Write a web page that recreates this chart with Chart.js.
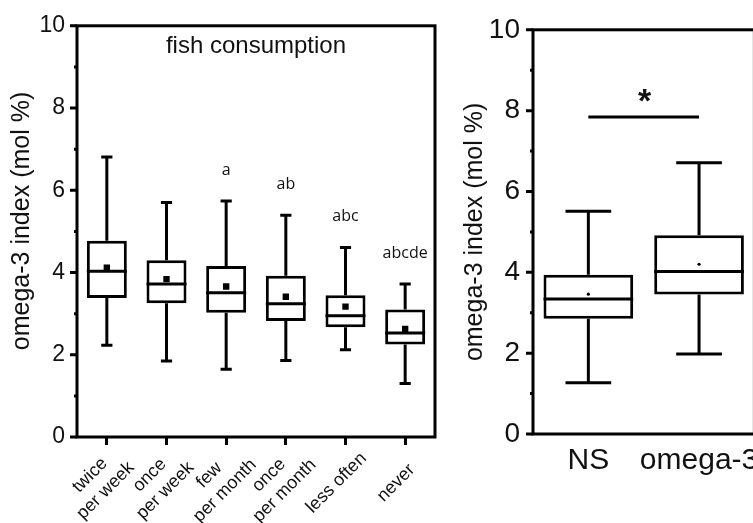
<!DOCTYPE html>
<html><head><meta charset="utf-8">
<script src="https://cdn.jsdelivr.net/npm/chart.js@4/dist/chart.umd.min.js"></script>
<style>
html,body{margin:0;padding:0;background:#fff;overflow:hidden;width:753px;height:523px;position:relative;}
#c1{position:absolute;left:0;top:0;}
#c2{position:absolute;left:440px;top:0;}
</style></head><body>
<canvas id="c1" width="445" height="523"></canvas>
<canvas id="c2" width="330" height="523"></canvas>
<script>
// ---- data: left panel (fish consumption) ----
const fishCategories = [["twice","per week"],["once","per week"],["few","per month"],["once","per month"],"less often","never"];
const fishMin    = [2.23, 1.85, 1.65, 1.86, 2.12, 1.30];
const fishQ1     = [3.38, 3.25, 3.02, 2.82, 2.67, 2.25];
const fishMedian = [4.03, 3.72, 3.51, 3.24, 2.95, 2.53];
const fishQ3     = [4.77, 4.30, 4.16, 3.92, 3.45, 3.10];
const fishMax    = [6.81, 5.70, 5.74, 5.39, 4.61, 3.72];
const fishMean   = [4.12, 3.84, 3.66, 3.41, 3.17, 2.63];
const fishLetters = ["", "", "a", "ab", "abc", "abcde"];
const fishTitle = "fish consumption";

// ---- data: right panel (NS vs omega-3) ----
const groupCategories = ["NS", "omega-3"];
const groupMin    = [1.27, 1.98];
const groupQ1     = [2.85, 3.45];
const groupMedian = [3.34, 4.02];
const groupQ3     = [3.94, 4.92];
const groupMax    = [5.51, 6.71];
const groupMean   = [3.46, 4.20];
const sigLevel = 7.84;
const sigMark = "*";

const yTitle = "omega-3 index (mol %)";
const yMin = 0, yMax = 10, yStep = 1;

const FONT = "'Liberation Sans', Arial, sans-serif";

const boxExtras = {
  id: 'boxExtras',
  afterDatasetDraw(chart, args, o) {
    if (args.index !== 0) return;
    const ctx = chart.ctx, y = chart.scales.y;
    const meta = args.meta;
    ctx.save();
    ctx.strokeStyle = '#000';
    ctx.lineWidth = o.lw;
    ctx.lineCap = 'butt';
    meta.data.forEach((bar, i) => {
      const x = bar.x, w = bar.width, cw = w * o.cap;
      const yMx = y.getPixelForValue(o.max[i]), yQ3 = y.getPixelForValue(o.q3[i]);
      const yQ1 = y.getPixelForValue(o.q1[i]), yMn = y.getPixelForValue(o.min[i]);
      const yMd = y.getPixelForValue(o.median[i]);
      ctx.beginPath();
      ctx.moveTo(x, yMx); ctx.lineTo(x, yQ3);
      ctx.moveTo(x, yQ1); ctx.lineTo(x, yMn);
      ctx.moveTo(x - cw/2, yMx); ctx.lineTo(x + cw/2, yMx);
      ctx.moveTo(x - cw/2, yMn); ctx.lineTo(x + cw/2, yMn);
      ctx.moveTo(x - w/2, yMd); ctx.lineTo(x + w/2, yMd);
      ctx.stroke();
    });
    ctx.restore();
  },
  afterDraw(chart, args, o) {
    const ctx = chart.ctx, y = chart.scales.y, xs = chart.scales.x, a = chart.chartArea;
    ctx.save();
    ctx.strokeStyle = '#000';
    ctx.lineWidth = 3;
    // frame
    ctx.strokeRect(a.left, a.top, a.right - a.left, a.bottom - a.top);
    // y tick marks (major on labelled ticks, minor otherwise)
    ctx.beginPath();
    y.ticks.forEach(t => {
      const py = y.getPixelForValue(t.value);
      const len = (t.value % 2 === 0) ? 7 : 3;
      ctx.moveTo(a.left - len, py); ctx.lineTo(a.left, py);
    });
    ctx.stroke();
    ctx.fillStyle = '#111';
    const meta = chart.getDatasetMeta(0);
    // rotated, centre-aligned category labels
    if (o.rotLabels) {
      ctx.font = "18px " + FONT;
      ctx.textAlign = 'center'; ctx.textBaseline = 'middle';
      const lh = 22;
      chart.data.labels.forEach((lab, i) => {
        const lines = Array.isArray(lab) ? lab : [lab];
        const cx = xs.getPixelForTick(i) - 9, cy = a.bottom + 46;
        ctx.save();
        ctx.translate(cx, cy);
        ctx.rotate(-Math.PI / 4);
        lines.forEach((ln, j) => ctx.fillText(ln, 0, (j - (lines.length - 1) / 2) * lh));
        ctx.restore();
      });
    }
    if (o.title) {
      ctx.font = "24px " + FONT;
      ctx.textAlign = 'center'; ctx.textBaseline = 'middle';
      ctx.fillText(o.title, (a.left + a.right)/2, a.top + 21);
    }
    if (o.letters) {
      ctx.font = "16px 'Open Sans', sans-serif";
      ctx.textAlign = 'center'; ctx.textBaseline = 'middle';
      o.letters.forEach((L, i) => {
        if (!L) return;
        ctx.fillText(L, meta.data[i].x, y.getPixelForValue(o.max[i]) - 31);
      });
    }
    if (o.sig !== undefined) {
      const x0 = meta.data[0].x, x1 = meta.data[1].x, py = y.getPixelForValue(o.sig);
      ctx.beginPath(); ctx.moveTo(x0, py); ctx.lineTo(x1, py); ctx.stroke();
      ctx.font = "bold 34px " + FONT;
      ctx.textAlign = 'center'; ctx.textBaseline = 'alphabetic';
      ctx.fillText(o.sigMark, (x0 + x1)/2 + 1, py - 5);
    }
    ctx.restore();
  }
};

function makeChart(id, cfg) {
  return new Chart(document.getElementById(id), {
    data: {
      labels: cfg.labels,
      datasets: [
        { type: 'bar', order: 2,
          data: cfg.q1.map((v, i) => [v, cfg.q3[i]]),
          backgroundColor: '#fff', borderColor: '#000', borderWidth: cfg.lw,
          borderSkipped: false, barPercentage: cfg.barPct, categoryPercentage: 1 },
        { type: 'line', order: 1, data: cfg.mean, showLine: false,
          pointStyle: cfg.meanStyle, pointRadius: cfg.meanR, pointBackgroundColor: '#000',
          pointBorderColor: '#000', pointBorderWidth: 0 }
      ]
    },
    options: {
      responsive: false, animation: false, devicePixelRatio: 1,
      layout: { padding: { top: cfg.padTop, right: cfg.padRight, left: 0, bottom: 0 } },
      plugins: {
        legend: { display: false }, tooltip: { enabled: false },
        boxExtras: { lw: cfg.lw, cap: cfg.cap, min: cfg.min, q1: cfg.q1, median: cfg.median,
          q3: cfg.q3, max: cfg.max, letters: cfg.letters, title: cfg.title,
          sig: cfg.sig, sigMark: cfg.sigMark, rotLabels: cfg.rotLabels }
      },
      scales: {
        x: {
          type: 'category', offset: true,
          grid: cfg.xTicks ? { display: true, drawOnChartArea: false, drawTicks: true,
            tickLength: 8, lineWidth: 3, color: '#000', offset: false }
            : { display: false, drawTicks: false },
          border: { display: false },
          ticks: { display: !cfg.rotLabels, color: '#111', font: { size: cfg.xFont, family: FONT },
            maxRotation: 0, minRotation: 0, autoSkip: false, padding: cfg.xPad },
          afterFit: s => { s.height = cfg.xH; }
        },
        y: {
          min: yMin, max: yMax,
          grid: { display: false, drawTicks: false }, border: { display: false },
          ticks: { stepSize: yStep, color: '#111', padding: cfg.yPad,
            font: { size: cfg.yFont, family: FONT },
            callback: v => (v % 2 === 0 ? String(v) : '') },
          title: { display: true, text: cfg.yTitleText, color: '#111',
            font: { size: 25, family: FONT }, padding: { top: cfg.titlePad, bottom: 0 } },
          afterFit: s => { s.width = cfg.yW; }
        }
      }
    },
    plugins: [boxExtras]
  });
}

makeChart('c1', {
  labels: fishCategories, min: fishMin, q1: fishQ1, median: fishMedian, q3: fishQ3,
  max: fishMax, mean: fishMean, letters: fishLetters, title: fishTitle,
  lw: 3, cap: 0.28, barPct: 0.67, meanStyle: 'rect', meanR: 4.5,
  padTop: 24, padRight: 10, xTicks: true, rotLabels: true, xFont: 18, xPad: 4, xH: 86,
  yFont: 23, yPad: 12, yW: 77, titlePad: 7, yTitleText: "   " + yTitle
});

makeChart('c2', {
  labels: groupCategories, min: groupMin, q1: groupQ1, median: groupMedian, q3: groupQ3,
  max: groupMax, mean: groupMean, sig: sigLevel, sigMark: sigMark,
  lw: 3, cap: 0.51, barPct: 0.81, meanStyle: 'circle', meanR: 1.6,
  padTop: 26, padRight: 11, xTicks: false, rotLabels: false, xFont: 30, xPad: 9, xH: 89,
  yFont: 28, yPad: 13, yW: 93, titlePad: 20, yTitleText: yTitle
});
</script>
</body></html>
